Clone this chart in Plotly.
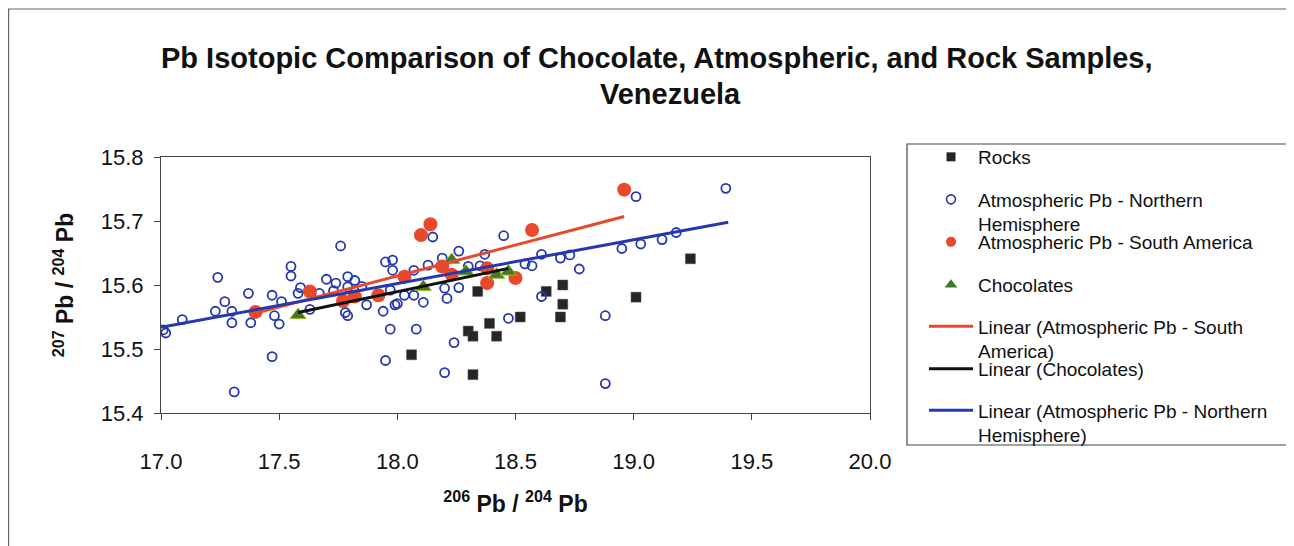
import plotly.graph_objects as go

# ---------------- data ----------------
rocks_x = [18.06, 18.30, 18.32, 18.34, 18.39, 18.42, 18.32, 18.52, 18.63, 18.70, 18.70, 18.69, 19.01, 19.24]
rocks_y = [15.491, 15.528, 15.520, 15.590, 15.540, 15.520, 15.460, 15.550, 15.590, 15.600, 15.570, 15.550, 15.581, 15.641]

nh_x = [17.01, 17.02, 17.09, 17.24, 17.27, 17.23, 17.30, 17.30, 17.31, 17.37,
        17.38, 17.47, 17.47, 17.48, 17.50, 17.51, 17.55, 17.55, 17.58, 17.59,
        17.63, 17.67, 17.70, 17.74, 17.76, 17.73, 17.79, 17.79, 17.78, 17.79,
        17.82, 17.85, 17.87, 17.94, 17.95, 17.98, 17.98, 17.99, 17.97, 17.95,
        18.45, 18.15, 18.26, 18.37, 18.19, 18.13, 18.07, 18.00, 18.03, 18.07,
        18.11, 18.20, 18.21, 18.26, 18.35, 18.30, 18.08, 18.24, 18.20, 18.47,
        18.61, 18.54, 18.57, 18.61, 18.69, 18.73, 18.77, 18.88, 18.88, 18.95,
        19.01, 19.39, 19.03, 19.12, 19.18, 17.97]
nh_y = [15.530, 15.525, 15.546, 15.612, 15.574, 15.559, 15.559, 15.541, 15.433, 15.587,
        15.541, 15.584, 15.488, 15.552, 15.539, 15.574, 15.629, 15.614, 15.587, 15.596,
        15.562, 15.587, 15.609, 15.603, 15.661, 15.591, 15.613, 15.597, 15.557, 15.552,
        15.607, 15.598, 15.569, 15.559, 15.636, 15.639, 15.623, 15.569, 15.531, 15.482,
        15.677, 15.675, 15.653, 15.648, 15.642, 15.631, 15.623, 15.571, 15.584, 15.584,
        15.573, 15.595, 15.579, 15.596, 15.630, 15.629, 15.531, 15.510, 15.463, 15.548,
        15.582, 15.633, 15.630, 15.648, 15.642, 15.647, 15.625, 15.552, 15.446, 15.657,
        15.738, 15.751, 15.664, 15.671, 15.682, 15.592]

sa_x = [17.40, 17.63, 17.77, 17.82, 17.92, 18.03, 18.10, 18.14, 18.19, 18.23,
        18.38, 18.38, 18.50, 18.57, 18.96]
sa_y = [15.558, 15.590, 15.575, 15.582, 15.584, 15.613, 15.678, 15.695, 15.629, 15.616,
        15.626, 15.603, 15.611, 15.686, 15.749]

choc_x = [17.58, 18.11, 18.23, 18.29, 18.42, 18.47]
choc_y = [15.553, 15.597, 15.639, 15.621, 15.616, 15.621]

# linear trend lines, end points
sa_fit_x, sa_fit_y = [17.40, 18.96], [15.556, 15.707]
choc_fit_x, choc_fit_y = [17.58, 18.47], [15.557, 15.626]
nh_fit_x, nh_fit_y = [17.00, 19.40], [15.534, 15.698]

x_ticks = [17.0, 17.5, 18.0, 18.5, 19.0, 19.5, 20.0]
y_ticks = [15.4, 15.5, 15.6, 15.7, 15.8]

names = ["Rocks", "Atmospheric Pb - Northern<br>Hemisphere", "Atmospheric Pb - South America",
         "Chocolates", "Linear (Atmospheric Pb - South<br>America)", "Linear (Chocolates)",
         "Linear (Atmospheric Pb - Northern<br>Hemisphere)"]
title_lines = ["Pb Isotopic Comparison of Chocolate, Atmospheric, and Rock Samples,", "Venezuela"]

# ---------------- style ----------------
FONT = "Liberation Sans, Arial, sans-serif"
OFF = 8                      # page offset of the figure (body margin)
W, H = 1294 - OFF, 546 - OFF
L_PX, R_PX, T_PX, B_PX = 161 - OFF, 870 - OFF, 157 - OFF, 413 - OFF
C_ROCK, C_NH, C_SA, C_CHOC, C_BLK = "#262626", "#2638b0", "#e8492b", "#3f7a26", "#111111"


def px_x(p):
    """page pixel -> paper x"""
    return (p - OFF - L_PX) / (R_PX - L_PX)


def px_y(p):
    """page pixel -> paper y"""
    return (B_PX - (p - OFF)) / (B_PX - T_PX)


fig = go.Figure()

fig.add_trace(go.Scatter(x=rocks_x, y=rocks_y, mode="markers", showlegend=False,
                         marker=dict(symbol="square", size=10, color=C_ROCK,
                                     line=dict(width=0.5, color="#555"))))
fig.add_trace(go.Scatter(x=nh_x, y=nh_y, mode="markers", showlegend=False,
                         marker=dict(symbol="circle-open", size=9, color=C_NH,
                                     line=dict(width=1.8, color=C_NH))))
fig.add_trace(go.Scatter(x=sa_x, y=sa_y, mode="markers", showlegend=False,
                         marker=dict(symbol="circle", size=14, color=C_SA,
                                     line=dict(width=0))))
fig.add_trace(go.Scatter(x=choc_x, y=choc_y, mode="markers", showlegend=False,
                         marker=dict(symbol="triangle-up", size=14, color=C_CHOC,
                                     line=dict(width=1, color="#9fb52a"))))

for xs, ys, col in [(sa_fit_x, sa_fit_y, C_SA), (choc_fit_x, choc_fit_y, C_BLK),
                    (nh_fit_x, nh_fit_y, C_NH)]:
    fig.add_trace(go.Scatter(x=xs, y=ys, mode="lines", showlegend=False,
                             line=dict(color=col, width=3)))

# ---------------- legend (one native legend per entry) ----------------
leg_specs = [
    (0, "marker", dict(symbol="square", size=9, color=C_ROCK), 157),
    (1, "marker", dict(symbol="circle-open", size=9, color=C_NH, line=dict(width=1.6, color=C_NH)), 212),
    (2, "marker", dict(symbol="circle", size=10, color=C_SA), 242),
    (3, "marker", dict(symbol="triangle-up", size=11, color=C_CHOC), 285),
    (4, "line", dict(color=C_SA, width=3), 339),
    (5, "line", dict(color=C_BLK, width=3), 369),
    (6, "line", dict(color=C_NH, width=3), 423),
]
legend_layouts = {}
for i, (ni, kind, st, ypx) in enumerate(leg_specs):
    key = "legend" if i == 0 else f"legend{i + 1}"
    if kind == "marker":
        fig.add_trace(go.Scatter(x=[None], y=[None], mode="markers", name=names[ni],
                                 marker=st, legend=key, showlegend=True))
    else:
        fig.add_trace(go.Scatter(x=[None], y=[None], mode="lines", name=names[ni],
                                 line=st, legend=key, showlegend=True))
    legend_layouts[key] = dict(
        x=(924 - OFF) / W, y=1 - (ypx - OFF) / H, xref="container", yref="container",
        xanchor="left", yanchor="middle", bgcolor="rgba(0,0,0,0)", borderwidth=0,
        itemwidth=44, valign="top", font=dict(family=FONT, size=19, color="#111"),
        itemclick=False, itemdoubleclick=False)

shapes = [
    # outer frame
    dict(type="rect", xref="paper", yref="paper", x0=px_x(8.6), x1=px_x(1290),
         y0=px_y(620), y1=px_y(9), line=dict(color="#666", width=1.2)),
    # legend box
    dict(type="rect", xref="paper", yref="paper", x0=px_x(907), x1=px_x(1287),
         y0=px_y(445), y1=px_y(144), line=dict(color="#444", width=1.2)),
]

title_font = dict(family=FONT, size=29, color="#111", weight="bold")
annotations = [
    dict(text=title_lines[0], xref="paper", yref="paper", x=px_x(657), y=px_y(58),
         xanchor="center", yanchor="middle", showarrow=False, font=title_font),
    dict(text=title_lines[1], xref="paper", yref="paper", x=px_x(670), y=px_y(94),
         xanchor="center", yanchor="middle", showarrow=False, font=title_font),
]

axis_font = dict(family=FONT, size=22, color="#111")

fig.update_layout(
    width=W, height=H, autosize=False,
    margin=dict(l=L_PX, r=W - R_PX, t=T_PX, b=H - B_PX, pad=0),
    paper_bgcolor="white", plot_bgcolor="white",
    xaxis=dict(range=[17.0, 20.0], tickvals=x_ticks, ticktext=[f"{v:.1f}" for v in x_ticks],
               showgrid=False, zeroline=False, showline=True, mirror=True,
               linecolor="#444", linewidth=1, ticks="outside", ticklen=6, tickcolor="#444",
               tickfont=axis_font, ticklabelstandoff=23,
               title=dict(text="<sup>206</sup> Pb / <sup>204</sup> Pb", standoff=22,
                          font=dict(family=FONT, size=23, color="#111", weight="bold"))),
    yaxis=dict(range=[15.4, 15.8], tickvals=y_ticks, ticktext=[f"{v:.1f}" for v in y_ticks],
               showgrid=False, zeroline=False, showline=True, mirror=True,
               linecolor="#444", linewidth=1, ticks="outside", ticklen=6, tickcolor="#444",
               tickfont=axis_font, ticklabelstandoff=6,
               title=dict(text="<sup>207</sup> Pb / <sup>204</sup> Pb", standoff=20,
                          font=dict(family=FONT, size=23, color="#111", weight="bold"))),
    shapes=shapes,
    annotations=annotations,
    **legend_layouts,
)

fig.write_html("out.html")
